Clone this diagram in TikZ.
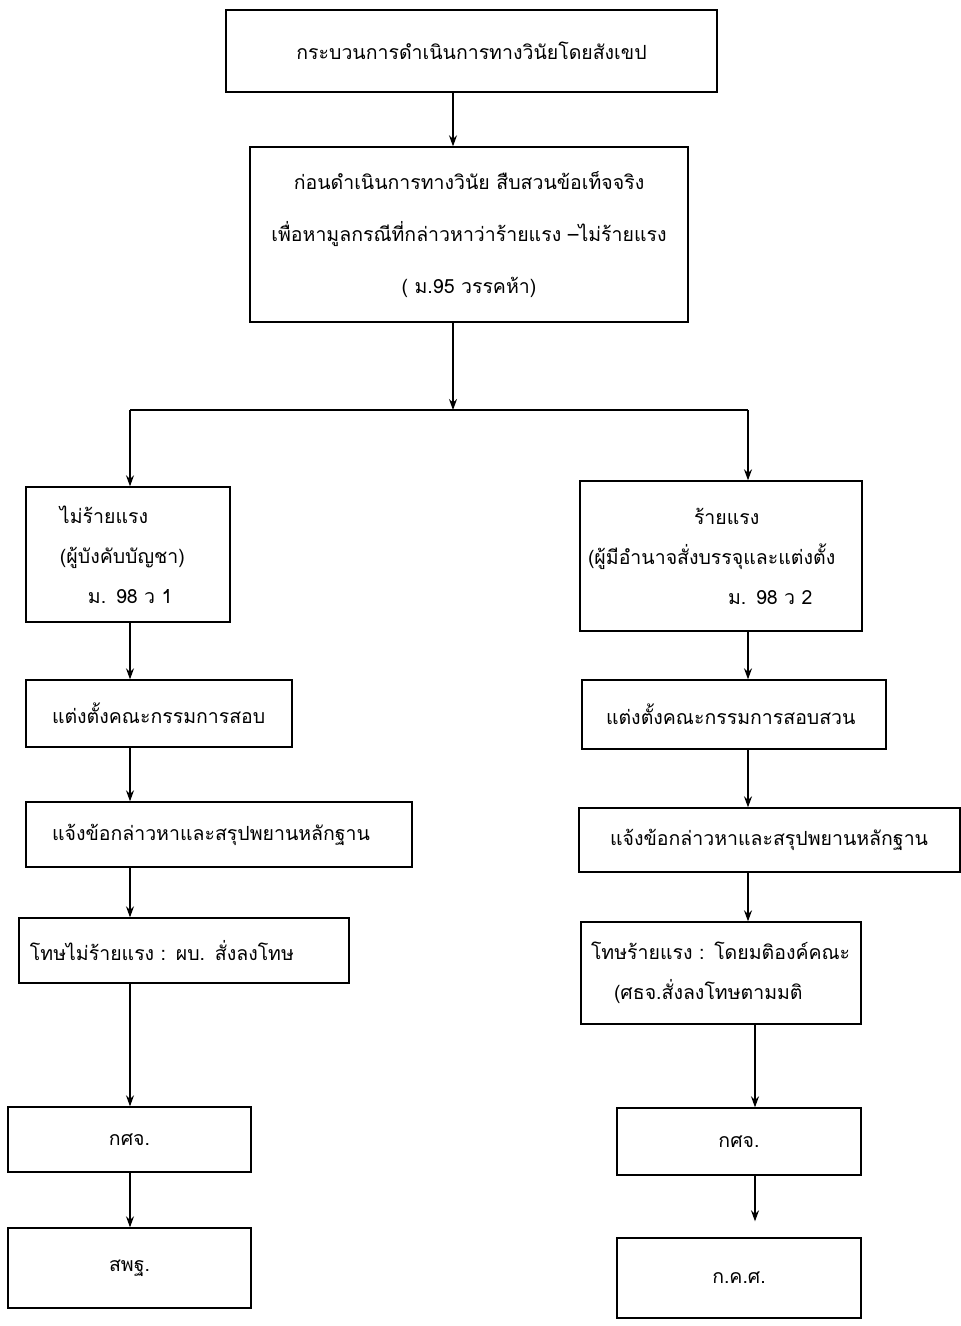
\documentclass[tikz,border=0pt]{standalone}
\usepackage{fontspec}
\newfontfamily\thaifont[Script=Thai]{Loma}
\usetikzlibrary{arrows.meta}

\begin{document}
\begin{tikzpicture}[x=1pt, y=-1pt, >={Stealth[length=11pt,width=8pt]},
    box/.style={draw, rectangle, line width=1.4pt, inner ysep=0pt, align=left, font=\thaifont\fontsize{19.5}{40}\selectfont},
    link/.style={->, line width=1.1pt}]

    \useasboundingbox (0,0) rectangle (961,1326);

    % --- Top of the chart ---
    \node [box, align=center, text width=471, inner xsep=10, minimum height=82] (title) at (471.5,51) {กระบวนการดำเนินการทางวินัยโดยสังเขป};
    \node [box, align=center, text width=418, inner xsep=10, minimum height=175] (pre) at (469,234.5) {
        ก่อนดำเนินการทางวินัย สืบสวนข้อเท็จจริง \\[12pt]
        เพื่อหามูลกรณีที่กล่าวหาว่าร้ายแรง –ไม่ร้ายแรง \\[12pt]
        ( ม.95 วรรคห้า)
    };

    % --- Left branch: not serious ---
    \node [box, text width=144, inner xsep=30, minimum height=135] (minor) at (128,554.5) {
        \hspace*{4pt}ไม่ร้ายแรง \\
        \hspace*{4pt}(ผู้บังคับบัญชา) \\
        \hspace*{32pt}ม. 98 ว 1
    };
    \node [box, text width=214, inner xsep=26, minimum height=67] (lboard) at (159,713.5) {แต่งตั้งคณะกรรมการสอบ};
    \node [box, text width=334, inner xsep=26, minimum height=65] (lcharge) at (219,834.5) {แจ้งข้อกล่าวหาและสรุปพยานหลักฐาน};
    \node [box, text width=308, inner xsep=11, minimum height=65] (lpenalty) at (184,950.5) {โทษไม่ร้ายแรง : ผบ. สั่งลงโทษ};
    \node [box, align=center, text width=223, inner xsep=10, minimum height=65] (lgkj) at (129.5,1139.5) {กศจ.};
    \node [box, align=center, text width=223, inner xsep=10, minimum height=80] (lobec) at (129.5,1268) {สพฐ.};

    % --- Right branch: serious ---
    \node [box, text width=266, inner xsep=8, minimum height=150] (major) at (721,556) {
        \hspace*{106pt}ร้ายแรง \\
        (ผู้มีอำนาจสั่งบรรจุและแต่งตั้ง \\
        \hspace*{140pt}ม. 98 ว 2
    };
    \node [box, text width=256, inner xsep=24, minimum height=69] (rboard) at (734,714.5) {แต่งตั้งคณะกรรมการสอบสวน};
    \node [box, text width=319, inner xsep=31, minimum height=64] (rcharge) at (769.5,840) {แจ้งข้อกล่าวหาและสรุปพยานหลักฐาน};
    \node [box, text width=260, inner xsep=10, minimum height=102] (rpenalty) at (721,973) {
        โทษร้ายแรง : โดยมติองค์คณะ \\
        \hspace*{23pt}(ศธจ.สั่งลงโทษตามมติ
    };
    \node [box, align=center, text width=224, inner xsep=10, minimum height=67] (rgkj) at (739,1141.5) {กศจ.};
    \node [box, align=center, text width=224, inner xsep=10, minimum height=80] (rtc) at (739,1278) {ก.ค.ศ.};

    % Connect the nodes.
    \coordinate (split) at (453,410);
    \coordinate (lcol) at (130,410);
    \coordinate (rcol) at (748,410);
    \coordinate (rlow) at (755,1100);

    \draw[link] (title.south -| split) -- (pre.north -| split);
    \draw[link] (pre.south -| split) -- (split);
    \draw[line width=1.1pt] (lcol) -- (rcol);
    \draw[link] (lcol) -- (minor.north -| lcol);
    \draw[link] (rcol) -- (major.north -| rcol);

    \draw[link] (minor.south -| lcol) -- (lboard.north -| lcol);
    \draw[link] (lboard.south -| lcol) -- (lcharge.north -| lcol);
    \draw[link] (lcharge.south -| lcol) -- (lpenalty.north -| lcol);
    \draw[link] (lpenalty.south -| lcol) -- (lgkj.north -| lcol);
    \draw[link] (lgkj.south -| lcol) -- (lobec.north -| lcol);

    \draw[link] (major.south -| rcol) -- (rboard.north -| rcol);
    \draw[link] (rboard.south -| rcol) -- (rcharge.north -| rcol);
    \draw[link] (rcharge.south -| rcol) -- (rpenalty.north -| rcol);
    \draw[link] (rpenalty.south -| rlow) -- (rgkj.north -| rlow);
    \draw[link] (rgkj.south -| rlow) -- ([yshift=16pt]rtc.north -| rlow);

\end{tikzpicture}
\end{document}
